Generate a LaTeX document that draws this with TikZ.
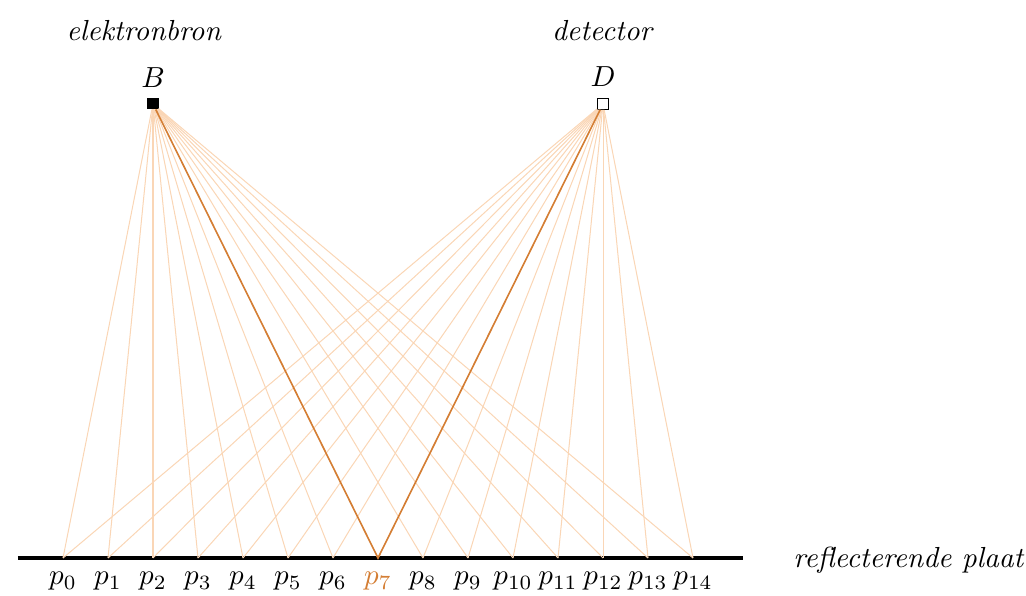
\documentclass[tikz,border=0pt]{standalone}
\usepackage{amsmath}
\usetikzlibrary{positioning}
\definecolor{straal}{RGB}{250,214,182}
\definecolor{hoofdstraal}{RGB}{212,126,52}

\begin{document}
\begin{tikzpicture}[x=0.545cm,y=0.545cm]
\useasboundingbox (-1.4,-0.844) rectangle (21.4,12.4);

% Plate
\draw[line width=1.6pt] (-1,0) -- (15.1,0);
\node (plaat) at (18.8,-0.05) {\textit{reflecterende plaat}};

% Points on the plate
\foreach \i in {0,...,14}
    \coordinate (p\i) at (\i,0);
\foreach \i in {0,...,6,8,9,...,14}
    \node (lab\i) at (\i,-0.52) {$p_{\i}$};
\node[text=hoofdstraal] (lab7) at (7,-0.52) {$p_{7}$};

% Source and detector
\node[draw, fill=black, inner sep=0pt, minimum size=0.12cm] (B) at (2,10.09) {};
\node[above=0.02 of B] (Blab) {$B$};
\node (bron) at (1.8,11.73) {\textit{elektronbron}};

\node[draw, fill=white, inner sep=0pt, minimum size=0.13cm] (D) at (12,10.09) {};
\node[above=0.02 of D] (Dlab) {$D$};
\node (det) at (12,11.73) {\textit{detector}};

% Paths
\foreach \i in {0,...,14}{
    \draw[straal, line width=0.35pt] (B) -- (p\i);
    \draw[straal, line width=0.35pt] (D) -- (p\i);
}
\draw[hoofdstraal, line width=0.55pt] (B) -- (p7) -- (D);
\end{tikzpicture}
\end{document}
